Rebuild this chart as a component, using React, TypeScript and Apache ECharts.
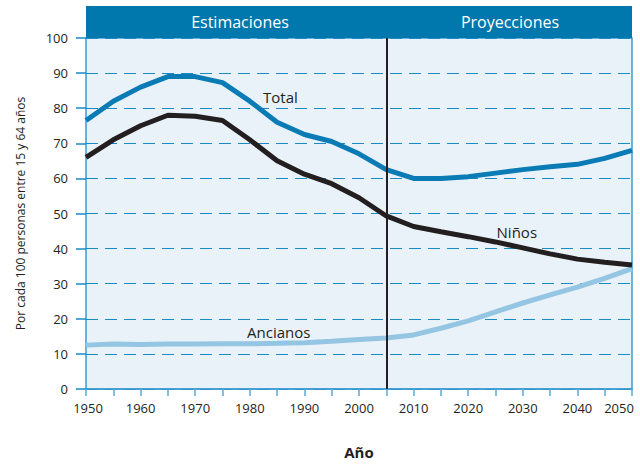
import React, { useEffect, useRef } from "react";
import * as echarts from "echarts";

const years = [1950, 1955, 1960, 1965, 1970, 1975, 1980, 1985, 1990, 1995, 2000, 2005, 2010, 2015, 2020, 2025, 2030, 2035, 2040, 2045, 2050];
const total = [76.5, 82, 86, 89, 89, 87.3, 82, 76, 72.5, 70.5, 67, 62.5, 60, 60, 60.5, 61.5, 62.5, 63.3, 64, 65.7, 68];
const ninos = [66, 71, 75, 78, 77.7, 76.5, 71, 65, 61.2, 58.5, 54.5, 49.3, 46.3, 44.8, 43.4, 41.9, 40.2, 38.5, 37, 36.1, 35.3];
const ancianos = [12.5, 12.8, 12.7, 12.8, 12.8, 12.9, 12.9, 13, 13.2, 13.6, 14.1, 14.5, 15.4, 17.3, 19.4, 22, 24.5, 26.8, 29, 31.5, 34.3];
const headers = ["Estimaciones", "Proyecciones"];
const divideYear = 2005;

const FONT = "'Open Sans', 'Noto Sans', sans-serif";
const TXT = "#231f20";

function pairs(v: number[]) {
  return years.map((y, i) => [y, v[i]]);
}

function labelPoint(name: string, coord: [number, number]) {
  return {
    symbol: "circle",
    symbolSize: 0,
    silent: true,
    label: { show: true, position: "inside", color: TXT, fontSize: 15, fontFamily: FONT },
    data: [{ coord, value: name, label: { formatter: name } }],
  };
}

export default function App() {
  const ref = useRef<HTMLDivElement>(null);
  useEffect(() => {
    document.body.style.margin = "0";
    const chart = echarts.init(ref.current!, undefined, { renderer: "svg" });
    chart.setOption({
      animation: false,
      grid: {
        left: 86,
        right: 8,
        top: 38,
        bottom: 73,
        show: true,
        backgroundColor: "#eaf2f9",
        borderColor: "#3d9bd0",
        borderWidth: 1.5,
      },
      graphic: [
        { type: "rect", shape: { x: 86, y: 6, width: 546, height: 32 }, style: { fill: "#0077ad" } },
        {
          type: "text",
          x: 240,
          y: 22,
          style: { text: headers[0], fill: "#ffffff", font: `16px ${FONT}`, textAlign: "center", textVerticalAlign: "middle" },
        },
        {
          type: "text",
          x: 510,
          y: 22,
          style: { text: headers[1], fill: "#ffffff", font: `16px ${FONT}`, textAlign: "center", textVerticalAlign: "middle" },
        },
      ],
      xAxis: {
        type: "value",
        min: 1950,
        max: 2050,
        interval: 5,
        name: "Año",
        nameLocation: "middle",
        nameGap: 55,
        nameTextStyle: { fontSize: 15, fontWeight: "bold", color: TXT, fontFamily: FONT },
        axisLine: { show: true, lineStyle: { color: "#3d9bd0", width: 1.5 } },
        axisTick: { show: true, length: 7, lineStyle: { color: "#5aaad6", width: 1.5 } },
        splitLine: { show: false },
        axisLabel: {
          color: TXT,
          fontSize: 13,
          fontFamily: FONT,
          margin: 12,
          formatter: (v: number) => {
            if (v % 10 !== 0) return "";
            if (v === 2050) return `{r|${v}}`;
            if (v === 1950) return `{l|${v}}`;
            return String(v);
          },
          rich: {
            r: { color: TXT, fontSize: 13, fontFamily: FONT, padding: [0, 26, 0, 0] },
            l: { color: TXT, fontSize: 13, fontFamily: FONT, padding: [0, 0, 0, 4] },
          },
        },
      },
      yAxis: {
        type: "value",
        min: 0,
        max: 100,
        interval: 10,
        name: "Por cada 100 personas entre 15 y 64 años",
        nameLocation: "middle",
        nameGap: 60,
        nameTextStyle: { fontSize: 12, color: TXT, fontFamily: FONT },
        axisLine: { show: false },
        axisTick: { show: true, length: 10, lineStyle: { color: "#1a8ac6", width: 1.5 } },
        splitLine: { show: true, lineStyle: { color: "#1a8ac6", width: 1.2, type: [12, 7] } },
        axisLabel: { color: TXT, fontSize: 13, fontFamily: FONT, margin: 18 },
      },
      series: [
        {
          type: "line",
          name: "Ancianos",
          data: pairs(ancianos),
          showSymbol: false,
          lineStyle: { color: "#94c5e3", width: 5 },
          markPoint: labelPoint("Ancianos", [1985.3, 16.2]),
        },
        {
          type: "line",
          name: "Niños",
          data: pairs(ninos),
          showSymbol: false,
          lineStyle: { color: "#231f20", width: 5 },
          markPoint: labelPoint("Niños", [2028.9, 44.8]),
          markLine: {
            silent: true,
            symbol: ["none", "none"],
            label: { show: false },
            lineStyle: { color: "#231f20", width: 2, type: "solid" },
            data: [{ xAxis: divideYear }],
          },
        },
        {
          type: "line",
          name: "Total",
          data: pairs(total),
          showSymbol: false,
          lineStyle: { color: "#0a7bb5", width: 5 },
          markPoint: labelPoint("Total", [1985.6, 83.3]),
        },
      ],
    });
    return () => chart.dispose();
  }, []);
  return <div ref={ref} style={{ width: 640, height: 464 }} />;
}
